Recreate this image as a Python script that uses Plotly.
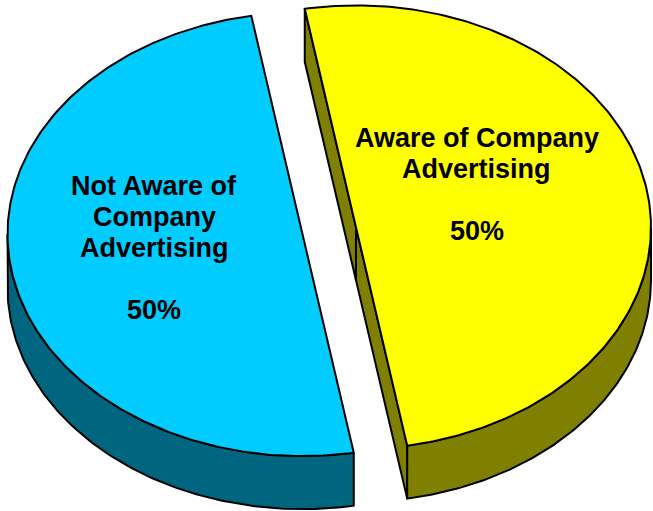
import numpy as np
import plotly.graph_objects as go

# Chart data
labels = ["Aware of Company<br>Advertising", "Not Aware of<br>Company<br>Advertising"]
values = [50, 50]
top_colors = ["#FFFF00", "#00CCFF"]
side_colors = ["#808000", "#006680"]

# 3-D pie geometry (pixel space of a 653x511 canvas, y grows downward)
W, H = 653, 511
CX, CY = 329.25, 230.75      # centre of the un-exploded top face
RX, RY = 295.0, 221.8        # semi-axes of the top ellipse
DEPTH = 53.0                 # extrusion height
EXPLODE = 0.092              # explode distance as fraction of radius
START = -100.0               # start angle (deg), slices run clockwise on screen
LABEL_R = [0.4165, 0.511]    # radial position of each label
LABEL_DY = [-27.0, -5.5]     # vertical nudge of each label
LINE_STEP = 31.0             # spacing between label lines
FONT = dict(family="Liberation Sans, Arial", size=27, color="black")
OUTLINE = dict(color="black", width=2)


def pt(c, t):
    r = np.radians(t)
    return c[0] + RX * np.cos(r), c[1] + RY * np.sin(r)


def poly(xs, ys, color):
    return go.Scatter(x=list(xs) + [xs[0]], y=list(ys) + [ys[0]], mode="lines",
                      fill="toself", fillcolor=color, line=OUTLINE,
                      hoverinfo="skip", showlegend=False)


fig = go.Figure()
total = sum(values)
angle = START
annotations = []
for i, v in enumerate(values):
    span = 360.0 * v / total
    ts, te = angle, angle + span
    mid = np.radians((ts + te) / 2)
    c = (CX + EXPLODE * RX * np.cos(mid), CY + EXPLODE * RY * np.sin(mid))

    # cut faces (visible when their outward normal points toward the viewer)
    faces = []
    for t, n in ((ts, ts - 90), (te, te + 90)):
        if np.sin(np.radians(n)) > 1e-9:
            faces.append(t)
    faces.sort(key=lambda t: pt(c, t)[1])  # back face first
    for t in faces:
        qx, qy = pt(c, t)
        fig.add_trace(poly([c[0], qx, qx, c[0]],
                           [c[1], qy, qy + DEPTH, c[1] + DEPTH], side_colors[i]))

    # outer wall: the part of the arc facing the viewer (sin t > 0)
    lo, hi = ts, te
    for k in range(-2, 3):
        a0, a1 = max(lo, 360 * k), min(hi, 360 * k + 180)
        if a1 > a0:
            tt = np.linspace(a0, a1, 120)
            ax, ay = pt(c, tt)
            xs = np.concatenate([ax, ax[::-1]])
            ys = np.concatenate([ay, (ay + DEPTH)[::-1]])
            fig.add_trace(poly(xs, ys, side_colors[i]))

    # top face
    tt = np.linspace(ts, te, 240)
    ax, ay = pt(c, tt)
    fig.add_trace(poly(np.concatenate([[c[0]], ax]), np.concatenate([[c[1]], ay]),
                       top_colors[i]))

    # data label: category name, blank line, percentage
    lx = c[0] + LABEL_R[i] * RX * np.cos(mid)
    ly = c[1] + LABEL_R[i] * RY * np.sin(mid) + LABEL_DY[i]
    lines = labels[i].split("<br>") + ["", f"{100 * v / total:.0f}%"]
    n = len(lines)
    for k, line in enumerate(lines):
        if not line:
            continue
        annotations.append(dict(x=lx, y=ly + (k - (n - 1) / 2) * LINE_STEP,
                                xref="x", yref="y", showarrow=False,
                                text=f"<b>{line}</b>", xanchor="center",
                                yanchor="middle", font=FONT))
    angle = te

fig.update_layout(
    width=W, height=H, margin=dict(l=0, r=0, t=0, b=0),
    paper_bgcolor="white", plot_bgcolor="white",
    xaxis=dict(range=[0, W], visible=False, fixedrange=True),
    yaxis=dict(range=[H, 0], visible=False, fixedrange=True),
    annotations=annotations,
)
fig.write_html("out.html")
